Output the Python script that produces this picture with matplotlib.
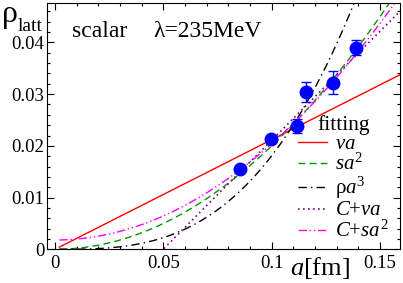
import numpy as np
import matplotlib
matplotlib.use("Agg")
import matplotlib.pyplot as plt
from matplotlib.ticker import MultipleLocator

# =========================================================
# DONNEES
# =========================================================

a_data   = [0.0854, 0.0995, 0.1118, 0.1158, 0.1284, 0.1389]
rho_data = [0.0155, 0.0213, 0.0238, 0.0304, 0.0322, 0.0390]
rho_err  = [0.0006, 0.0007, 0.0014, 0.0019, 0.0022, 0.0014]

# parametres des fits
v_lin   = 0.212             # va
s_quad  = 2.0               # sa^2
rho_cub = 18.1              # rho a^3
C_lin, v_off  = -0.021, 0.421   # C+va
C_quad, s_off = 0.0018, 1.862   # C+sa^2

fit_labels = ["$va$", "$sa^2$", "ρ$a^3$", "$C$+$va$", "$C$+$sa^2$"]
x_ticks = [0, 0.05, 0.1, 0.15]
x_ticklabels = ["0", "0.05", "0.1", "0.15"]
y_ticks = [0, 0.01, 0.02, 0.03, 0.04]
y_ticklabels = ["0", "0.01", "0.02", "0.03", "0.04"]

# =========================================================
# STYLE
# =========================================================

plt.rcParams["font.family"] = ["Liberation Serif", "DejaVu Serif"]
plt.rcParams["mathtext.fontset"] = "custom"
plt.rcParams["mathtext.rm"] = "Liberation Serif"
plt.rcParams["mathtext.it"] = "Liberation Serif:italic"

fig = plt.figure(figsize=(4.03, 2.83), dpi=100)
ax = fig.add_axes([0.1166, 0.119, 0.876, 0.872])

a = np.linspace(0.002, 0.16, 400)

ax.plot(a, v_lin * a, color="red", lw=1.0, ls="-", label=fit_labels[0])
ax.plot(a, s_quad * a**2, color=(0, 0.6, 0), lw=1.0, ls=(0, (5, 3)), label=fit_labels[1])
ax.plot(a, rho_cub * a**3, color="black", lw=1.0, ls=(0, (6, 3, 1, 3)), label=fit_labels[2])
ax.plot(a, C_lin + v_off * a, color="#800080", lw=1.2, ls=(0, (1, 2)), label=fit_labels[3])
ax.plot(a, C_quad + s_off * a**2, color="magenta", lw=1.0, ls=(0, (6, 2, 1, 2, 1, 2)), label=fit_labels[4])

ax.errorbar(a_data, rho_data, yerr=rho_err, fmt="o", color="blue", ms=9,
            capsize=3.5, elinewidth=1.0, capthick=1.0, zorder=5)

ax.set_xlim(-0.0037, 0.1592)
ax.set_ylim(0, 0.0477)

ax.set_xticks(x_ticks)
ax.set_xticklabels(x_ticklabels)
ax.set_yticks(y_ticks)
ax.set_yticklabels(y_ticklabels)
ax.xaxis.set_minor_locator(MultipleLocator(0.01))
ax.yaxis.set_minor_locator(MultipleLocator(0.002))
ax.tick_params(which="both", direction="in", top=True, right=True, labelsize=13.5)
ax.tick_params(which="major", length=5, width=0.8)
ax.tick_params(which="minor", length=2.5, width=0.8)
ax.tick_params(axis="x", pad=4)
ax.tick_params(axis="y", pad=2)

fig.text(0.794, 0.053, "$a$[fm]", fontsize=19, ha="center", va="center")
fig.text(0.004, 1 - 22 / 283, "ρ", fontsize=23, ha="left", va="baseline")
fig.text(0.045, 0.892, "latt", fontsize=14, ha="left", va="baseline")

fig.text(0.178, 0.87, "scalar", fontsize=17, ha="left", va="baseline")
fig.text(0.38, 0.87, "λ=235MeV", fontsize=17, ha="left", va="baseline")

leg = ax.legend(loc="upper left", bbox_to_anchor=(0.739, 0.594), bbox_transform=fig.transFigure,
                frameon=False, fontsize=15, title="fitting", title_fontsize=15.5,
                handlelength=1.4, handleheight=0.5, handletextpad=0.4, labelspacing=0.0,
                borderpad=0, borderaxespad=0)

plt.savefig("out.png", dpi=100)
